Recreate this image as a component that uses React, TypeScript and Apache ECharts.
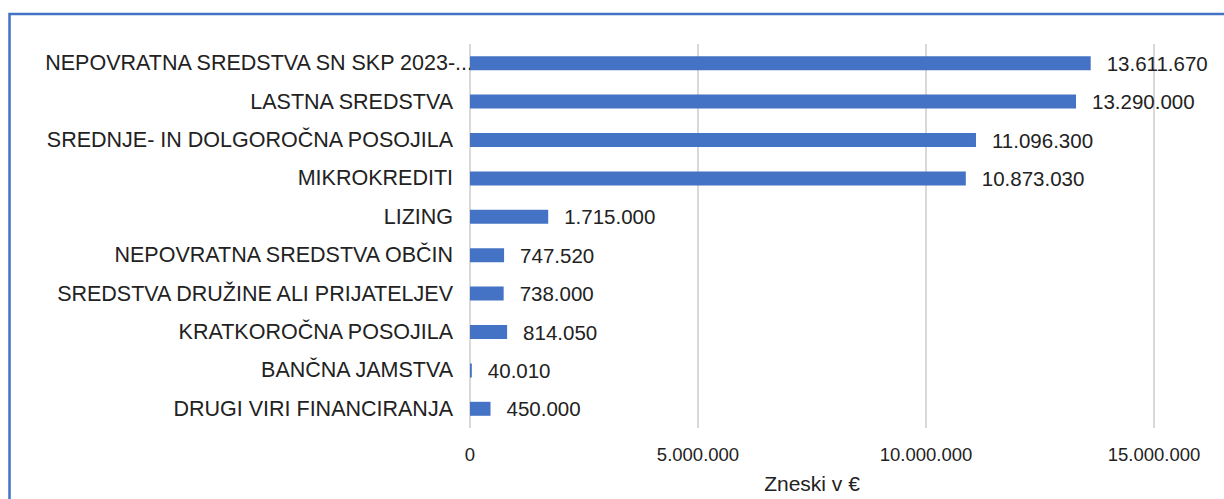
import React, { useEffect, useRef } from "react";
import * as echarts from "echarts";

const categories = [
  "NEPOVRATNA SREDSTVA SN SKP 2023-...",
  "LASTNA SREDSTVA",
  "SREDNJE- IN DOLGOROČNA POSOJILA",
  "MIKROKREDITI",
  "LIZING",
  "NEPOVRATNA SREDSTVA OBČIN",
  "SREDSTVA DRUŽINE ALI PRIJATELJEV",
  "KRATKOROČNA POSOJILA",
  "BANČNA JAMSTVA",
  "DRUGI VIRI FINANCIRANJA",
];
const values = [13611670, 13290000, 11096300, 10873030, 1715000, 747520, 738000, 814050, 40010, 450000];
const axisName = "Zneski v €";

const fmt = (v: number) => String(Math.round(v)).replace(/\B(?=(\d{3})+(?!\d))/g, ".");

export default function App() {
  const ref = useRef<HTMLDivElement>(null);
  useEffect(() => {
    if (!ref.current) return;
    const chart = echarts.init(ref.current, null, { renderer: "svg" });
    const font = "'Liberation Sans', Arial, sans-serif";
    chart.setOption({
      animation: false,
      textStyle: { fontFamily: font },
      grid: { left: 470, right: 70, top: 44, bottom: 66, containLabel: false },
      graphic: [
        {
          type: "rect",
          shape: { x: 9.5, y: 14, width: 1240, height: 520 },
          style: { fill: "none", stroke: "#4472C4", lineWidth: 2.5 },
          silent: true,
        },
      ],
      xAxis: {
        type: "value",
        min: 0,
        max: 15000000,
        interval: 5000000,
        name: axisName,
        nameLocation: "middle",
        nameGap: 45,
        nameTextStyle: { fontSize: 21, color: "#222", fontFamily: font },
        axisLine: { show: false },
        axisTick: { show: false },
        axisLabel: { formatter: (v: number) => fmt(v), fontSize: 18.5, color: "#222", margin: 17, fontFamily: font },
        splitLine: { show: true, lineStyle: { color: "#d9d9d9", width: 2 } },
      },
      yAxis: {
        type: "category",
        data: categories,
        inverse: true,
        axisLine: { show: false },
        axisTick: { show: false },
        axisLabel: {
          fontSize: 21.5,
          color: "#222",
          margin: 17,
          fontFamily: font,
          formatter: (v: string, i: number) => (i === 0 ? "{o|" + v + "}" : v),
          rich: {
            o: { fontSize: 21.5, color: "#222", fontFamily: font, padding: [0, -20, 0, 0] },
          },
        },
        splitLine: { show: false },
      },
      series: [
        {
          type: "bar",
          data: values,
          barWidth: 14,
          itemStyle: { color: "#4472C4" },
          label: {
            show: true,
            position: "right",
            distance: 16,
            formatter: (p: any) => fmt(p.value),
            fontSize: 20.5,
            color: "#222",
            fontFamily: font,
          },
        },
      ],
    });
    return () => chart.dispose();
  }, []);
  return (
    <div
      ref={ref}
      style={{ position: "fixed", left: 0, top: 0, width: 1224, height: 499, background: "#fff" }}
    />
  );
}
